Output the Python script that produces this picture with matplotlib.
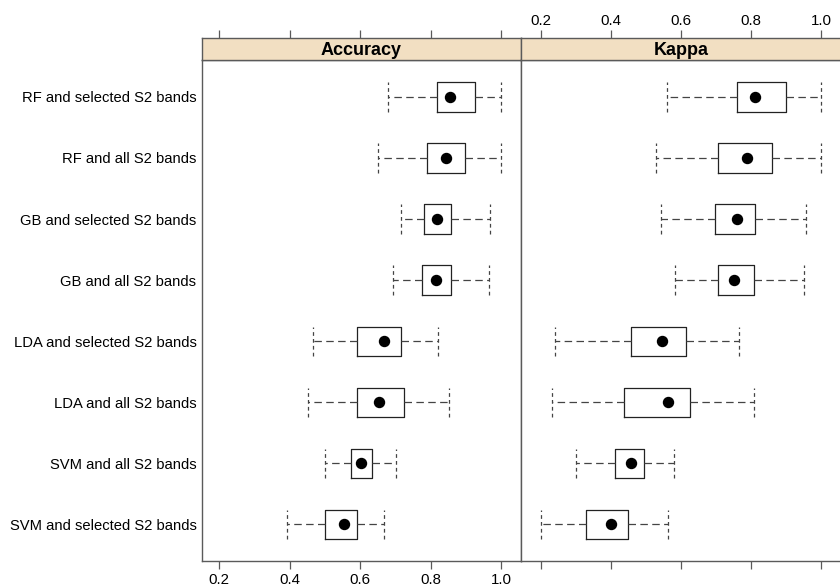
import matplotlib
matplotlib.use("Agg")
import matplotlib.pyplot as plt

plt.rcParams['font.family'] = ['Liberation Sans', 'DejaVu Sans']

categories = ["RF and selected S2 bands", "RF and all S2 bands",
              "GB and selected S2 bands", "GB and all S2 bands",
              "LDA and selected S2 bands", "LDA and all S2 bands",
              "SVM and all S2 bands", "SVM and selected S2 bands"]

# Accuracy: lower whisker, Q1, median, Q3, upper whisker
acc_lo  = [0.680, 0.652, 0.716, 0.693, 0.465, 0.451, 0.500, 0.391]
acc_q1  = [0.819, 0.789, 0.780, 0.777, 0.592, 0.592, 0.573, 0.500]
acc_med = [0.855, 0.845, 0.819, 0.816, 0.669, 0.654, 0.602, 0.555]
acc_q3  = [0.926, 0.897, 0.857, 0.857, 0.716, 0.725, 0.633, 0.592]
acc_hi  = [1.000, 1.000, 0.969, 0.965, 0.822, 0.853, 0.701, 0.669]

# Kappa
kap_lo  = [0.561, 0.529, 0.542, 0.583, 0.240, 0.232, 0.300, 0.200]
kap_q1  = [0.759, 0.707, 0.698, 0.707, 0.458, 0.437, 0.413, 0.328]
kap_med = [0.812, 0.788, 0.759, 0.752, 0.547, 0.562, 0.458, 0.401]
kap_q3  = [0.900, 0.861, 0.812, 0.809, 0.615, 0.627, 0.494, 0.450]
kap_hi  = [1.000, 1.000, 0.957, 0.952, 0.767, 0.808, 0.580, 0.562]

panels = ["Accuracy", "Kappa"]
xticks = [0.2, 0.4, 0.6, 0.8, 1.0]
xticklabels = ["0.2", "0.4", "0.6", "0.8", "1.0"]

W, H = 840, 585
fig = plt.figure(figsize=(W / 100, H / 100), dpi=100)

frame_col = "#5a5a5a"
strip_col = "#F2DFC2"
n = len(categories)
positions = list(range(n, 0, -1))

panel_px = [(202, 521, (0.1509, 1.0568)), (521, 841, (0.1438, 1.0570))]
data = [(acc_lo, acc_q1, acc_med, acc_q3, acc_hi),
        (kap_lo, kap_q1, kap_med, kap_q3, kap_hi)]

top_px, bot_px = 60.3, 561
strip_top = 37.7

for i, (name, (x0, x1, xl), d) in enumerate(zip(panels, panel_px, data)):
    ax = fig.add_axes([x0 / W, (H - bot_px) / H, (x1 - x0) / W, (bot_px - top_px) / H])
    lo, q1, med, q3, hi = d
    stats = [dict(whislo=lo[k], q1=q1[k], med=med[k], q3=q3[k], whishi=hi[k], fliers=[])
             for k in range(n)]
    ax.bxp(stats, positions=positions, vert=False, widths=0.48, capwidths=0.48,
           showfliers=False,
           boxprops=dict(color="#222222", linewidth=0.9),
           whiskerprops=dict(color="#444444", linewidth=0.9, linestyle=(0, (6, 3.5))),
           capprops=dict(color="#444444", linewidth=0.9, linestyle=(0, (3, 2.5))),
           medianprops=dict(linestyle="none"))
    ax.plot(med, positions, linestyle="none", marker="o", markersize=7.2,
            color="black", zorder=5)
    ax.set_xlim(*xl)
    ax.set_ylim(0.4, n + 0.6)
    for s in ax.spines.values():
        s.set_color(frame_col)
        s.set_linewidth(1.0)
    ax.set_xticks(xticks)
    ax.tick_params(axis="x", direction="out", length=5.8, width=0.9, color=frame_col,
                   pad=2.5, labelsize=10.8)
    if i == 0:
        ax.set_xticklabels(xticklabels)
        ax.set_yticks(positions)
        ax.set_yticklabels(categories, fontsize=10.6)
        ax.tick_params(axis="y", length=0, pad=4)
    else:
        ax.set_xticklabels([])
        ax.set_yticks([])

    sax = fig.add_axes([x0 / W, (H - top_px) / H, (x1 - x0) / W, (top_px - strip_top) / H])
    sax.set_facecolor(strip_col)
    sax.set_xlim(*xl)
    sax.set_ylim(0, 1)
    sax.set_yticks([])
    sax.set_xticks(xticks)
    sax.xaxis.set_ticks_position("top")
    sax.tick_params(axis="x", direction="out", length=5.8, width=0.9, color=frame_col,
                    pad=1.5, labelsize=10.8)
    if i == 1:
        sax.set_xticklabels(xticklabels)
    else:
        sax.set_xticklabels([])
    for s in sax.spines.values():
        s.set_color(frame_col)
        s.set_linewidth(1.0)
    sax.text(0.5, 0.45, name, transform=sax.transAxes, ha="center", va="center",
             fontsize=13, fontweight="bold")

fig.savefig("out.png", dpi=100)
